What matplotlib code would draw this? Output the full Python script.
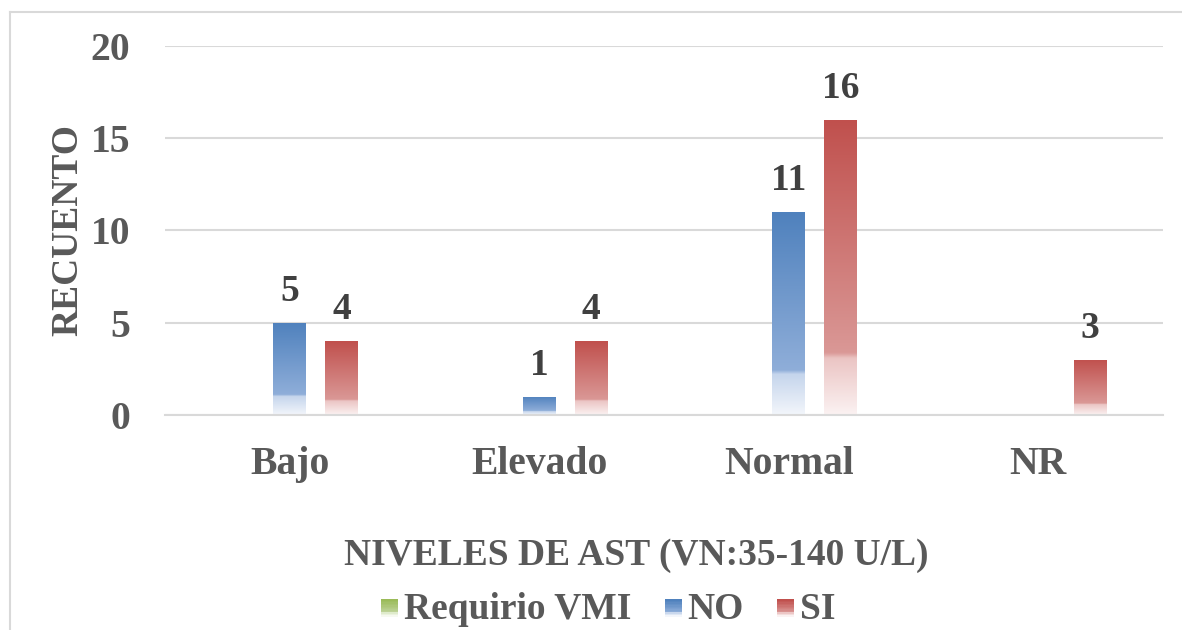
import numpy as np
import matplotlib
matplotlib.use('Agg')
from matplotlib import pyplot as plt
from matplotlib.colors import LinearSegmentedColormap
from matplotlib.patches import Rectangle
from matplotlib.legend_handler import HandlerBase

# AST levels vs. need for invasive mechanical ventilation
categorias = ['Bajo', 'Elevado', 'Normal', 'NR']
serie_vmi = [0, 0, 0, 0]
serie_no = [5, 1, 11, 0]
serie_si = [4, 4, 16, 3]
y_ticks = [0, 5, 10, 15, 20]

gris = '#595959'
fuente = 'Liberation Serif'

# top -> bottom colour stops, like the Excel light gradient fill
grad_verde = LinearSegmentedColormap.from_list(
    'verde', [(0, '#9BBB59'), (0.78, '#BFD39A'), (0.8, '#DDE9C8'), (1, '#F6F9F0')])
grad_azul = LinearSegmentedColormap.from_list(
    'azul', [(0, '#4F81BD'), (0.78, '#8FAED9'), (0.8, '#C5D5EC'), (1, '#F3F6FB')])
grad_rojo = LinearSegmentedColormap.from_list(
    'rojo', [(0, '#C0504D'), (0.79, '#DA9896'), (0.81, '#EBC5C4'), (1, '#FBF2F2')])
gradiente = np.linspace(0, 1, 256).reshape(-1, 1)

fig = plt.figure(figsize=(11.82, 6.30), dpi=100)
ax = fig.add_axes([0.1396, 0.3413, 0.8444, 0.5857])

# outer chart border (only left and top visible)
fig.add_artist(plt.Line2D([0.0085, 0.0085], [0, 0.981], color='#D9D9D9', lw=1.5,
                          transform=fig.transFigure))
fig.add_artist(plt.Line2D([0.0085, 1], [0.981, 0.981], color='#D9D9D9', lw=1.5,
                          transform=fig.transFigure))

x = np.arange(len(categorias))
ancho = 0.132
paso = 0.208

for valores, desp, cmap in [(serie_vmi, -paso, grad_verde),
                            (serie_no, 0, grad_azul),
                            (serie_si, paso, grad_rojo)]:
    barras = ax.bar(x + desp, valores, width=ancho, color='none', edgecolor='none')
    for b, v in zip(barras, valores):
        if v == 0:
            continue
        x0, w, h = b.get_x(), b.get_width(), b.get_height()
        im = ax.imshow(gradiente, cmap=cmap, aspect='auto',
                       extent=[x0, x0 + w, 0, h], origin='upper', zorder=2)
        im.set_clip_path(b)
        ax.annotate(str(v), (x0 + w / 2, h), xytext=(0, 10), textcoords='offset points',
                    ha='center', va='bottom', fontsize=27, fontweight='bold',
                    family=fuente, color='#404040')

ax.set_xlim(-0.5, 3.5)
ax.set_ylim(0, 20)
ax.set_yticks(y_ticks)
ax.set_xticks(x)
ax.set_xticklabels(categorias)
ax.grid(axis='y', color='#D9D9D9', lw=1.5, zorder=0)
ax.set_axisbelow(True)
for s in ['top', 'right', 'left']:
    ax.spines[s].set_visible(False)
ax.spines['bottom'].set_color('#D9D9D9')
ax.spines['bottom'].set_linewidth(1.5)
ax.tick_params(axis='both', length=0, colors=gris, labelsize=28.5)
ax.tick_params(axis='y', pad=25)
ax.tick_params(axis='x', pad=22)
for t in ax.get_xticklabels() + ax.get_yticklabels():
    t.set_fontfamily(fuente)
    t.set_fontweight('bold')

ax.set_ylabel('RECUENTO', fontsize=27, fontweight='bold', family=fuente, color=gris,
              labelpad=4)
ax.set_xlabel('NIVELES DE AST (VN:35-140 U/L)', fontsize=27, fontweight='bold',
              family=fuente, color=gris, labelpad=40)
ax.xaxis.label.set_x(0.472)


class HandlerGradiente(HandlerBase):
    def __init__(self, cmap):
        super().__init__()
        self.cmap = cmap

    def create_artists(self, legend, orig_handle, xdescent, ydescent, width, height,
                       fontsize, trans):
        lado = height * 0.66
        x0 = xdescent + width - lado
        y0 = -ydescent + height * 0.1
        n = 12
        piezas = []
        for i in range(n):
            c = self.cmap(i / (n - 1))
            piezas.append(Rectangle((x0, y0 + lado * (1 - (i + 1) / n)), lado, lado / n,
                                    facecolor=c, edgecolor='none', transform=trans))
        return piezas


h_vmi, h_no, h_si = Rectangle((0, 0), 1, 1), Rectangle((0, 0), 1, 1), Rectangle((0, 0), 1, 1)
leg = fig.legend([h_vmi, h_no, h_si], ['Requirio VMI', 'NO', 'SI'],
                 handler_map={h_vmi: HandlerGradiente(grad_verde),
                              h_no: HandlerGradiente(grad_azul),
                              h_si: HandlerGradiente(grad_rojo)},
                 loc='center', bbox_to_anchor=(0.514, 0.032), ncol=3, frameon=False,
                 prop={'family': fuente, 'weight': 'bold', 'size': 27},
                 handlelength=0.5, handletextpad=0.15, columnspacing=0.85)
for t in leg.get_texts():
    t.set_color(gris)

fig.savefig('out.png', dpi=100, facecolor='white')
